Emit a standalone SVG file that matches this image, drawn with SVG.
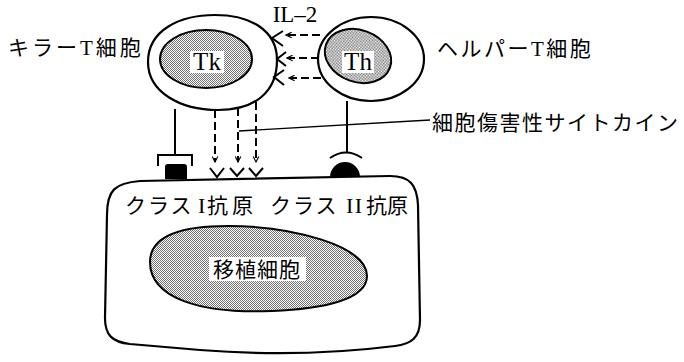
<svg xmlns="http://www.w3.org/2000/svg" width="684" height="362" viewBox="0 0 684 362">
  <style>
    .line { fill: none; stroke: #000; stroke-width: 2; }
    .thin { fill: none; stroke: #000; stroke-width: 1.3; }
    .dash { fill: none; stroke: #000; stroke-width: 2; stroke-dasharray: 8 4; }
    .membrane { fill: #fff; stroke: #000; stroke-width: 2.2; }
    .nucleus { fill: url(#stipple); stroke: #000; stroke-width: 2; }
    .jp { font-family: "Liberation Serif", "Noto Sans CJK JP", serif; font-size: 21px; fill: #000; }
    .roman { font-family: "Liberation Serif", serif; fill: #000; }
    .plate { fill: #fff; }
  </style>
  <defs>
    <pattern id="stipple" width="2" height="2" patternUnits="userSpaceOnUse">
      <rect width="2" height="2" fill="#fff"/>
      <rect x="0" y="0" width="1" height="1" fill="#707070"/>
      <rect x="1" y="1" width="1" height="1" fill="#707070"/>
    </pattern>
    <marker id="open-arrow" viewBox="0 0 10 10" refX="9" refY="5" markerWidth="7" markerHeight="7" orient="auto" markerUnits="userSpaceOnUse">
      <path d="M1,1 L9,5 L1,9" fill="none" stroke="#000" stroke-width="1.6"/>
    </marker>
  </defs>

  <!-- transplanted (target) cell -->
  <g id="graft-cell">
    <path class="membrane" d="M107,215 C107,190 115,183 140,181 L390,176 C410,176 417,185 418,205 L420,320 C420,338 411,344 395,346 Q300,358 200,350 L130,344 C112,342 105,335 105,318 Z"/>
    <path class="nucleus" d="M150,262 C150,236 180,226 228,226 C290,226 367,245 367,276 C367,300 322,309 272,311 C200,314 150,298 150,262 Z"/>
    <rect class="plate" x="209" y="257" width="97" height="24"/>
    <text class="jp" x="257" y="277" text-anchor="middle" letter-spacing="1">移植細胞</text>
    <text class="jp" x="125" y="213" letter-spacing="2">クラス</text>
    <text class="roman" x="198" y="213" font-size="22">I</text>
    <text class="jp" x="207" y="213" letter-spacing="4">抗原</text>
    <text class="jp" x="270" y="213" letter-spacing="2">クラス</text>
    <text class="roman" x="346" y="213" font-size="22" letter-spacing="1.5">II</text>
    <text class="jp" x="366" y="213">抗原</text>
    <!-- class I antigen (square) and class II antigen (dome) on the membrane -->
    <path d="M165,179 L165,167 Q165,164 168,164 L184,164 Q187,164 187,167 L187,179 Z" fill="#000"/>
    <path d="M330,177 A15,15 0 0 1 360,177 Z" fill="#000"/>
    <!-- cytokine receptors -->
    <path class="line" d="M210,168 L217,177 L224,168"/>
    <path class="line" d="M230,168 L237,176 L244,168"/>
    <path class="line" d="M249,168 L256,176 L263,168"/>
  </g>

  <!-- killer T cell -->
  <g id="tk-cell">
    <path class="membrane" d="M148,62 C148,30 180,15 215,15 C250,15 277,30 277,60 C277,92 255,110 218,110 C180,110 148,92 148,62 Z"/>
    <ellipse class="nucleus" cx="206" cy="59" rx="46" ry="29"/>
    <rect class="plate" x="190" y="51" width="34" height="22"/>
    <text class="roman" x="207" y="70" font-size="25" text-anchor="middle">Tk</text>
    <!-- IL-2 receptors -->
    <path class="line" d="M283,31 L272,38 L283,46"/>
    <path class="line" d="M286,52 L277,59 L286,66"/>
    <path class="line" d="M284,70 L274,77 L284,85"/>
    <text class="jp" x="8" y="55" letter-spacing="3">キラー<tspan class="roman">T</tspan>細胞</text>
  </g>

  <!-- helper T cell -->
  <g id="th-cell">
    <ellipse class="membrane" cx="371" cy="59" rx="53" ry="42"/>
    <ellipse class="nucleus" cx="358" cy="56" rx="34" ry="26" transform="rotate(20 358 56)"/>
    <rect class="plate" x="342" y="51" width="32" height="22"/>
    <text class="roman" x="358" y="70" font-size="25" text-anchor="middle">Th</text>
    <text class="jp" x="437" y="56" letter-spacing="2.5">ヘルパー<tspan class="roman">T</tspan>細胞</text>
  </g>

  <!-- connectors -->
  <g id="connectors">
    <!-- IL-2 secretion -->
    <text class="roman" x="295" y="22" font-size="23" text-anchor="middle">IL–2</text>
    <line class="dash" x1="320" y1="35" x2="286" y2="35" marker-end="url(#open-arrow)"/>
    <line class="dash" x1="319" y1="58" x2="287" y2="58" marker-end="url(#open-arrow)"/>
    <line class="dash" x1="321" y1="78" x2="289" y2="78" marker-end="url(#open-arrow)"/>
    <!-- cytotoxic cytokines -->
    <line class="dash" x1="215" y1="110" x2="215" y2="162" marker-end="url(#open-arrow)"/>
    <line class="dash" x1="238" y1="108" x2="238" y2="162" marker-end="url(#open-arrow)"/>
    <line class="dash" x1="256" y1="102" x2="256" y2="162" marker-end="url(#open-arrow)"/>
    <line class="thin" x1="239" y1="131" x2="430" y2="120"/>
    <text class="jp" x="432" y="130" letter-spacing="1.5">細胞傷害性サイトカイン</text>
    <!-- Tk receptor binding class I -->
    <line class="line" x1="175" y1="109" x2="175" y2="155"/>
    <path class="line" d="M158,166 L158,155 L192,155 L192,166"/>
    <!-- Th receptor binding class II -->
    <line class="line" x1="347" y1="101" x2="347" y2="152"/>
    <path class="line" d="M330,158 Q346,147 362,158"/>
  </g>
</svg>
